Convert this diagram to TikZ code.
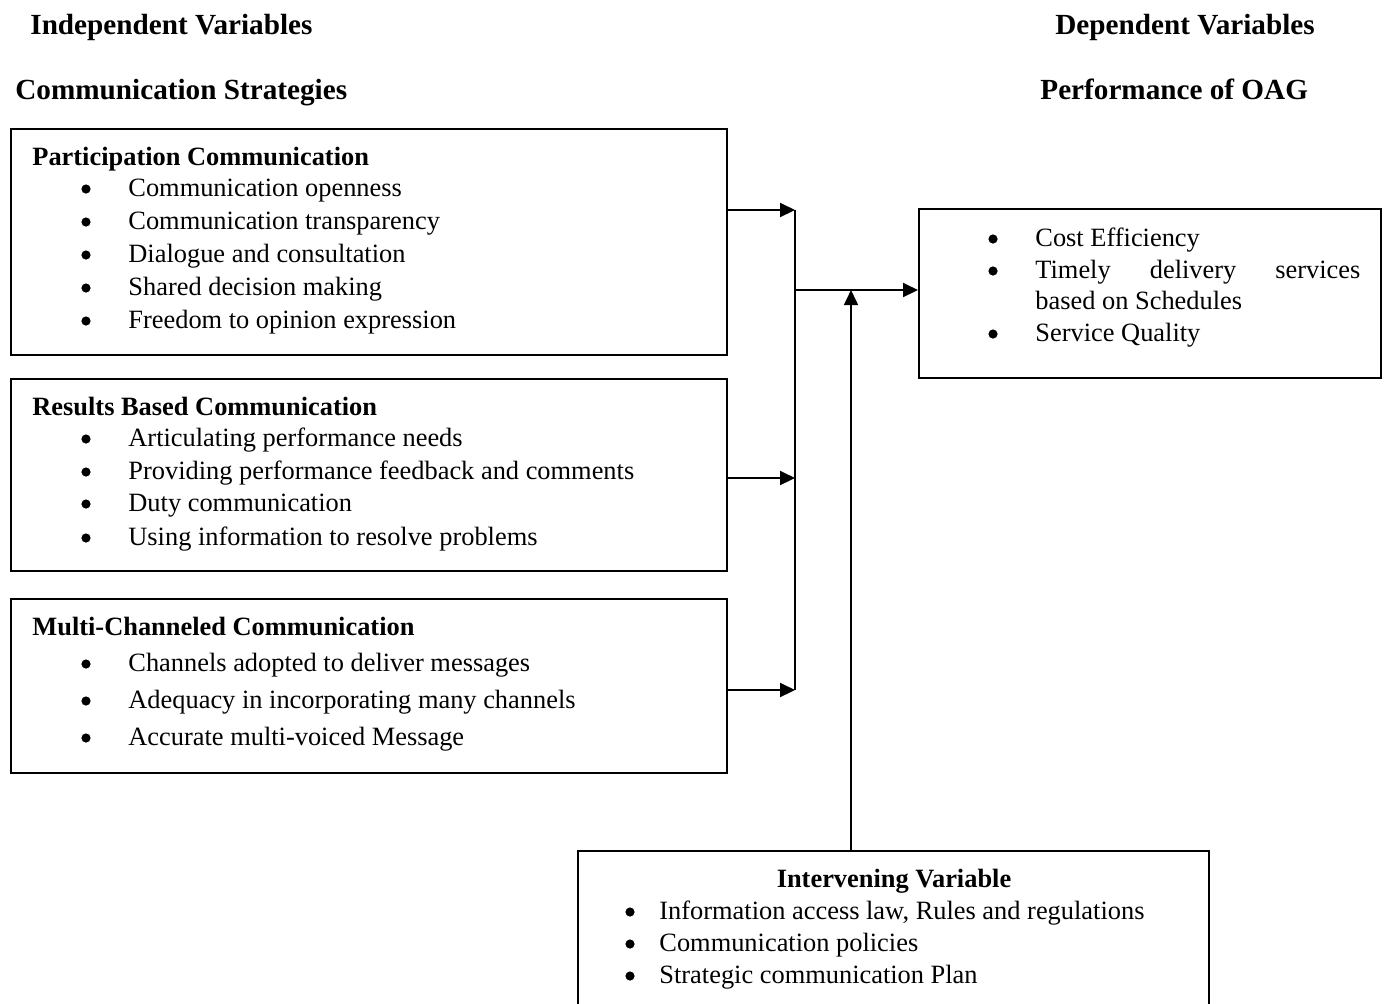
\documentclass[tikz,border=0pt]{standalone}
\usepackage{fontspec}
\setmainfont{Liberation Serif}
\usetikzlibrary{arrows.meta, fit}

\begin{document}
\begin{tikzpicture}[x=0.5pt, y=-0.5pt,
    box/.style={draw, line width=1pt, inner sep=0pt},
    txt/.style={anchor=base west, inner sep=0pt, font=\fontsize{13.2}{16}\selectfont},
    head/.style={txt, font=\fontsize{13.2}{16}\selectfont\bfseries},
    title/.style={txt, font=\fontsize{14.6}{17}\selectfont\bfseries},
    dot/.style={circle, fill, inner sep=0pt, minimum size=4.6pt},
    conn/.style={line width=1pt, -{Triangle[length=7.5pt, width=7pt]}}]
    \useasboundingbox (0,0) rectangle (1385,1003);

    % titles
    \node[title] (indep) at (30, 34) {Independent Variables};
    \node[title] (dep) at (1055, 34) {Dependent Variables};
    \node[title] (strat) at (15, 99) {Communication Strategies};
    \node[title] (perf) at (1040, 99) {Performance of OAG};

    % boxes
    \node[box, fit={(11,129) (727,355)}] (pbox) {};
    \node[box, fit={(11,379) (727,571)}] (rbox) {};
    \node[box, fit={(11,599) (727,773)}] (mbox) {};
    \node[box, fit={(919,209) (1381,378)}] (dbox) {};
    \node[box, fit={(578,851) (1209,1012)}] (ibox) {};

    % participation
    \node[head] (ph) at (32, 165) {Participation Communication};
    \foreach \t [count=\i] in {Communication openness, Communication transparency,
        Dialogue and consultation, Shared decision making, Freedom to opinion expression} {
        \node[dot] (pd\i) at (86, 189+33*\i-33) {};
        \node[txt] (pi\i) at (128, 196+33*\i-33) {\t};
    }

    % results based
    \node[head] (rh) at (32, 415) {Results Based Communication};
    \foreach \t/\y [count=\i] in {Articulating performance needs/446,
        Providing performance feedback and comments/479,
        Duty communication/511, Using information to resolve problems/545} {
        \node[dot] (rd\i) at (86, \y-7) {};
        \node[txt] (ri\i) at (128, \y) {\t};
    }

    % multi-channeled
    \node[head] (mh) at (32, 635) {Multi-Channeled Communication};
    \foreach \t [count=\i] in {Channels adopted to deliver messages,
        Adequacy in incorporating many channels, Accurate multi-voiced Message} {
        \node[dot] (md\i) at (86, 664+37*\i-37) {};
        \node[txt] (mi\i) at (128, 671+37*\i-37) {\t};
    }

    % performance
    \node[dot] (dd1) at (993, 239) {};
    \node[txt] (di1) at (1035, 246) {Cost Efficiency};
    \node[dot] (dd2) at (993, 271) {};
    \node[txt] (di2) at (1035, 278) {\hbox to 162.5pt{Timely\hfill delivery\hfill services}};
    \node[txt] (di3) at (1035, 309) {based on Schedules};
    \node[dot] (dd4) at (993, 334) {};
    \node[txt] (di4) at (1035, 341) {Service Quality};

    % intervening
    \node[head, anchor=base] (ih) at (894, 887) {Intervening Variable};
    \foreach \t [count=\i] in {{Information access law, Rules and regulations},
        Communication policies, Strategic communication Plan} {
        \node[dot] (id\i) at (630, 912+32*\i-32) {};
        \node[txt] (ii\i) at (659, 919+32*\i-32) {\t};
    }

    % connectors
    \coordinate (j1) at (795, 210);
    \coordinate (j2) at (795, 478);
    \coordinate (j3) at (795, 690);
    \coordinate (jm) at (795, 290);
    \coordinate (jt) at (851, 290);
    \draw[conn] (pbox.east |- j1) -- (j1);
    \draw[conn] (rbox.east |- j2) -- (j2);
    \draw[conn] (mbox.east |- j3) -- (j3);
    \draw[line width=1pt] (j1) -- (j3);
    \draw[conn] (jm) -- (jm -| dbox.west);
    \draw[conn, line width=0.8pt] (ibox.north -| jt) -- (jt);
\end{tikzpicture}
\end{document}
